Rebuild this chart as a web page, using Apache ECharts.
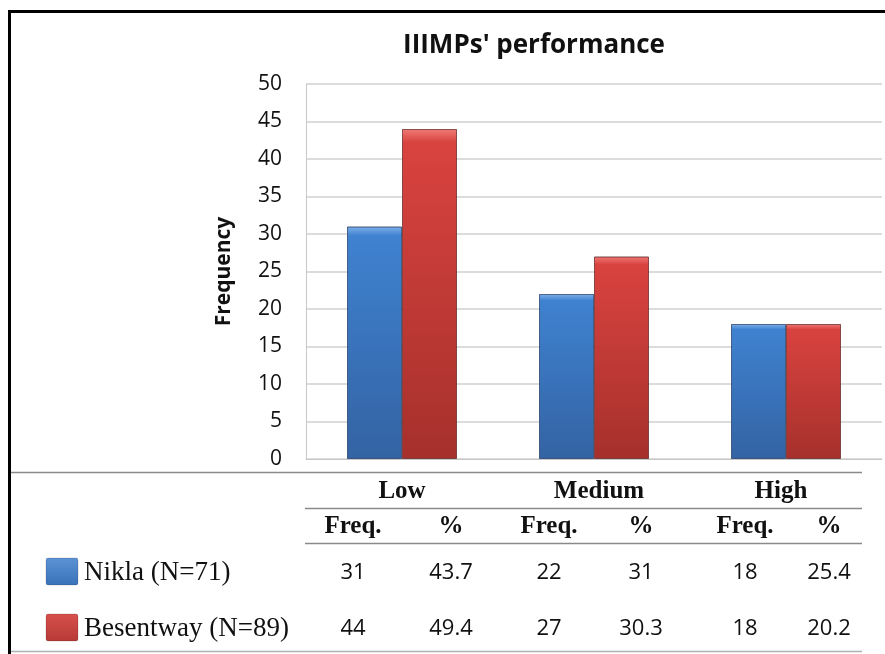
<!DOCTYPE html>
<html>
<head>
<meta charset="utf-8">
<script src="https://cdn.jsdelivr.net/npm/echarts@6/dist/echarts.min.js"></script>
<style>
  html, body { margin: 0; padding: 0; background: #fff; }
  #chart { width: 885px; height: 654px; }
</style>
</head>
<body>
<div id="chart"></div>
<script>
// Performance levels and the two groups compared
const categories = ['Low', 'Medium', 'High'];
const seriesNames = ['Nikla (N=71)', 'Besentway (N=89)'];
const niklaFreq = [31, 22, 18];
const niklaPct = ['43.7', '31', '25.4'];
const besentwayFreq = [44, 27, 18];
const besentwayPct = ['49.4', '30.3', '20.2'];
const subHeaders = ['Freq.', '%'];
const yMin = 0, yMax = 50, yStep = 5;

const chart = echarts.init(document.getElementById('chart'), null, { renderer: 'canvas' });

function barGradient(top, mid, bottom) {
  return new echarts.graphic.LinearGradient(0, 0, 0, 1, [
    { offset: 0, color: top },
    { offset: 0.04, color: mid },
    { offset: 1, color: bottom }
  ]);
}

const sansFont = '"Open Sans", "Noto Sans", sans-serif';
const serifFont = '"Liberation Serif", "DejaVu Serif", serif';

chart.setOption({
  animation: false,
  title: {
    text: "IIIMPs' performance",
    left: 529,
    top: 28,
    textAlign: 'center',
    textStyle: { fontFamily: sansFont, fontWeight: 'bold', fontSize: 26, color: '#111' }
  },
  grid: { left: 306, right: 3, top: 84, bottom: 195 },
  xAxis: {
    type: 'category',
    data: categories,
    axisLine: { show: true, lineStyle: { color: '#c8c8c8', width: 1 } },
    axisTick: { show: false },
    axisLabel: { show: false }
  },
  yAxis: {
    type: 'value',
    min: yMin, max: yMax, interval: yStep,
    name: 'Frequency',
    nameLocation: 'middle',
    nameGap: 71,
    nameRotate: 90,
    nameTextStyle: { fontFamily: sansFont, fontWeight: 'bold', fontSize: 21, color: '#111' },
    axisLine: { show: true, lineStyle: { color: '#c8c8c8', width: 1 } },
    axisTick: { show: false },
    axisLabel: { margin: 24, fontFamily: sansFont, fontSize: 21, color: '#111' },
    splitLine: { lineStyle: { color: '#d0d0d0', width: 1.5 } }
  },
  series: [
    {
      name: seriesNames[0],
      type: 'bar',
      data: niklaFreq,
      barWidth: 55,
      barGap: '0%',
      itemStyle: {
        color: barGradient('#7fb1ea', '#3f82d0', '#3363a3'),
        borderColor: 'rgba(30,50,90,0.45)',
        borderWidth: 1
      }
    },
    {
      name: seriesNames[1],
      type: 'bar',
      data: besentwayFreq,
      barWidth: 55,
      barGap: '0%',
      itemStyle: {
        color: barGradient('#f07a76', '#d9433f', '#a6302c'),
        borderColor: 'rgba(90,30,30,0.45)',
        borderWidth: 1
      }
    }
  ]
});

// Data table under the plot, columns placed relative to each category centre
const els = [];
const tableLeft = 10, tableRight = 862, tableStart = 305;
const hLine = (x1, x2, y, color, w) => ({
  type: 'line', silent: true,
  shape: { x1: x1, y1: y, x2: x2, y2: y },
  style: { stroke: color, lineWidth: w }
});
els.push(hLine(tableLeft, tableRight, 472.5, '#8a8a8a', 1.5));
els.push(hLine(tableStart, tableRight, 508.5, '#8a8a8a', 1.5));
els.push(hLine(tableStart, tableRight, 543.5, '#8a8a8a', 1.5));
els.push(hLine(tableLeft, tableRight, 651.5, '#b0b0b0', 1.5));

const text = (x, y, str, font, size, weight, align) => ({
  type: 'text', silent: true,
  x: x, y: y,
  style: {
    text: str, fill: '#111',
    font: (weight || 'normal') + ' ' + size + 'px ' + font,
    textAlign: align || 'center', textVerticalAlign: 'middle'
  }
});

// column offsets (px) of the Freq. and % columns and the group header from each category centre
const freqOffsets = [-49, -45, -41];
const pctOffsets = [49, 47, 43];
const headOffsets = [0, 5, -5];
const rows = [
  { name: seriesNames[0], freq: niklaFreq, pct: niklaPct, y: 573, color: ['#5b93d6', '#3a72b8'] },
  { name: seriesNames[1], freq: besentwayFreq, pct: besentwayPct, y: 629, color: ['#d8504c', '#b63a36'] }
];

categories.forEach((cat, i) => {
  const cx = chart.convertToPixel({ xAxisIndex: 0 }, cat);
  const fx = cx + freqOffsets[i], px = cx + pctOffsets[i];
  els.push(text(cx + headOffsets[i], 492, cat, serifFont, 25, 'bold'));
  els.push(text(fx, 527, subHeaders[0], serifFont, 25, 'bold'));
  els.push(text(px, 527, subHeaders[1], serifFont, 25, 'bold'));
  rows.forEach(r => {
    els.push(text(fx, r.y, String(r.freq[i]), sansFont, 22, 'normal'));
    els.push(text(px, r.y, r.pct[i], sansFont, 22, 'normal'));
  });
});

rows.forEach(r => {
  els.push({
    type: 'rect', silent: true,
    shape: { x: 46, y: r.y - 15, width: 32, height: 27, r: 2 },
    style: {
      fill: new echarts.graphic.LinearGradient(0, 0, 0, 1, [
        { offset: 0, color: r.color[0] }, { offset: 1, color: r.color[1] }
      ]),
      stroke: 'rgba(0,0,0,0.15)', lineWidth: 1
    }
  });
  els.push(text(84, r.y, r.name, serifFont, 27, 'normal', 'left'));
});

// Outer frame
els.push({
  type: 'rect', silent: true, z: 100,
  shape: { x: 9.5, y: 11.5, width: 900, height: 700 },
  style: { fill: 'none', stroke: '#000', lineWidth: 3 }
});

chart.setOption({ graphic: { elements: els } });
</script>
</body>
</html>
